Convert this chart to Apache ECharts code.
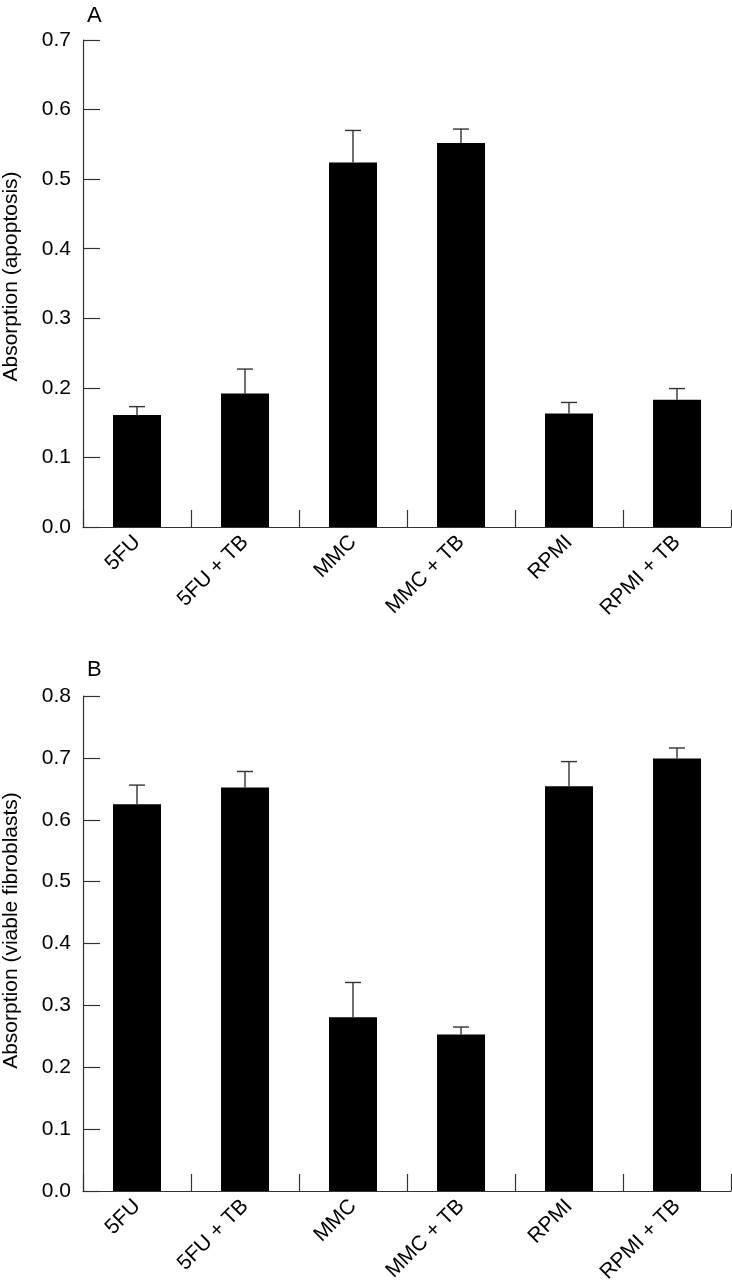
<!DOCTYPE html>
<html>
<head>
<meta charset="utf-8">
<script src="https://cdn.jsdelivr.net/npm/echarts@6/dist/echarts.min.js"></script>
<style>
html,body{margin:0;padding:0;background:#fff;}
#chart{width:732px;height:1280px;}
</style>
</head>
<body>
<div id="chart"></div>
<script>
const categories = ['5FU', '5FU + TB', 'MMC', 'MMC + TB', 'RPMI', 'RPMI + TB'];
const apoptosisMean = [0.161, 0.192, 0.524, 0.552, 0.163, 0.183];
const apoptosisUpper = [0.173, 0.227, 0.570, 0.572, 0.179, 0.199];
const viableMean = [0.625, 0.652, 0.281, 0.253, 0.654, 0.699];
const viableUpper = [0.656, 0.678, 0.337, 0.265, 0.694, 0.716];
const apoptosisTicks = [0, 0.7, 0.1];
const viableTicks = [0, 0.8, 0.1];

const FONT = 'Liberation Sans, Arial, Helvetica, sans-serif';
const AX = '#333';
const FS = 21;

function errData(mean, upper) {
  return mean.map((m, i) => [i, m, upper[i]]);
}
function renderErr(params, api) {
  const i = api.value(0);
  const lo = api.coord([i, api.value(1)]);
  const hi = api.coord([i, api.value(2)]);
  const cap = 8;
  const style = { stroke: AX, lineWidth: 1.4 };
  return {
    type: 'group',
    children: [
      { type: 'line', shape: { x1: lo[0], y1: lo[1], x2: hi[0], y2: hi[1] }, style: style },
      { type: 'line', shape: { x1: hi[0] - cap, y1: hi[1], x2: hi[0] + cap, y2: hi[1] }, style: style }
    ]
  };
}

function xAxis(gi) {
  return {
    type: 'category', gridIndex: gi, data: categories, boundaryGap: true,
    axisLine: { show: true, lineStyle: { color: AX, width: 1.2 } },
    axisTick: { show: true, inside: true, length: 17, interval: 0, lineStyle: { color: AX, width: 1.2 } },
    axisLabel: { rotate: 45, margin: 12, interval: 0, color: '#000', fontSize: FS, fontFamily: FONT },
    splitLine: { show: false }
  };
}
function yAxis(gi, ticks, name, shift) {
  return {
    type: 'value', gridIndex: gi, min: ticks[0], max: ticks[1], interval: ticks[2],
    name: name, nameLocation: 'middle', nameGap: 61,
    nameTextStyle: { color: '#000', fontSize: FS, fontFamily: FONT, padding: [0, 0, 0, shift] },
    axisLine: { show: true, lineStyle: { color: AX, width: 1.2 } },
    axisTick: { show: true, inside: true, length: 17, lineStyle: { color: AX, width: 1.2 } },
    axisLabel: { margin: 12, color: '#000', fontSize: FS, fontFamily: FONT, formatter: v => v.toFixed(1) },
    splitLine: { show: false }
  };
}

const chart = echarts.init(document.getElementById('chart'), null, { renderer: 'canvas' });
chart.setOption({
  backgroundColor: '#fff',
  animation: false,
  title: [
    { text: 'A', left: 82, top: 0, textStyle: { fontSize: 22, fontWeight: 'normal', color: '#000', fontFamily: FONT } },
    { text: 'B', left: 82, top: 654, textStyle: { fontSize: 22, fontWeight: 'normal', color: '#000', fontFamily: FONT } }
  ],
  grid: [
    { left: 83, top: 40, width: 648, height: 487, containLabel: false, outerBoundsMode: 'none' },
    { left: 83, top: 696, width: 648, height: 495, containLabel: false, outerBoundsMode: 'none' }
  ],
  xAxis: [xAxis(0), xAxis(1)],
  yAxis: [yAxis(0, apoptosisTicks, 'Absorption (apoptosis)', 14), yAxis(1, viableTicks, 'Absorption (viable fibroblasts)', 26)],
  series: [
    { type: 'bar', xAxisIndex: 0, yAxisIndex: 0, data: apoptosisMean, barWidth: 48, itemStyle: { color: '#000' }, z: 2 },
    { type: 'custom', xAxisIndex: 0, yAxisIndex: 0, data: errData(apoptosisMean, apoptosisUpper), renderItem: renderErr, z: 3 },
    { type: 'bar', xAxisIndex: 1, yAxisIndex: 1, data: viableMean, barWidth: 48, itemStyle: { color: '#000' }, z: 2 },
    { type: 'custom', xAxisIndex: 1, yAxisIndex: 1, data: errData(viableMean, viableUpper), renderItem: renderErr, z: 3 }
  ]
});
</script>
</body>
</html>
